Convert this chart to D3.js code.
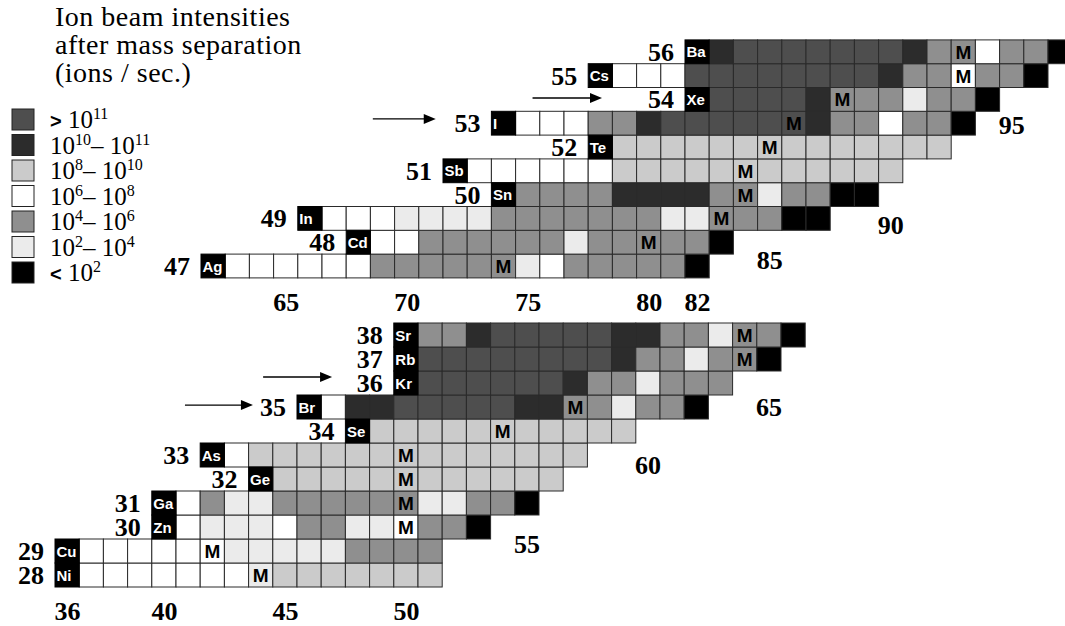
<!DOCTYPE html>
<html lang="en">
<head>
<meta charset="UTF-8">
<title>Ion beam intensities after mass separation</title>
<script src="https://cdnjs.cloudflare.com/ajax/libs/d3/7.8.5/d3.min.js"></script>
<style>
  body { margin: 0; background: #fff; }
  svg { display: block; }
  .num { font-family: "Liberation Serif", "Times New Roman", serif; font-weight: bold; font-size: 26px; fill: #000; }
  text.sym { font-family: "Liberation Sans", Arial, sans-serif; font-weight: bold; font-size: 15px; fill: #fff; }
  .m { font-family: "Liberation Sans", Arial, sans-serif; font-weight: bold; font-size: 19px; fill: #000; }
  .title { font-family: "Liberation Serif", "Times New Roman", serif; font-size: 28px; letter-spacing: 0.5px; }
  .leg { font-family: "Liberation Serif", "Times New Roman", serif; font-size: 25px; }
</style>
</head>
<body>
<div id="chart"></div>
<script>
// intensity classes, legend order (ions / sec.)
const levelLabels = ["> 10^11", "10^10– 10^11", "10^8– 10^10", "10^6– 10^8", "10^4– 10^6", "10^2– 10^4", "< 10^2"];
const titleLines = ["Ion beam intensities", "after mass separation", "(ions / sec.)"];

// upper chart: one row per element, class codes start at N = stable + 1
const upperZ      = [47, 48, 49, 50, 51, 52, 53, 54, 55, 56];
const upperSymbol = ["Ag", "Cd", "In", "Sn", "Sb", "Te", "I", "Xe", "Cs", "Ba"];
const upperStable = [62, 68, 66, 74, 72, 78, 74, 82, 78, 82];
const upperClass  = [
  "33333344444453444446",
  "334444445444446",
  "333555544444445544466",
  "444411114454466",
  "333333222222222222",
  "22222222222222",
  "3334410000001443446",
  "000014445446",
  "333000000001443446",
  "100000001443446"
];
const upperM = [[47, 74], [48, 80], [49, 83], [50, 84], [51, 84], [52, 85], [53, 86], [54, 88], [55, 93], [56, 93]];
const upperTicks = [65, 70, 75, 80, 82];
const upperEdgeTicks = [[85, 47.25], [90, 48.72], [95, 52.92]];   // [N, Z]
const upperArrows = [[53.18, 68.6, 71.2], [54.06, 75.2, 78.07]];  // [Z, N from, N to]

// lower chart
const lowerZ      = [28, 29, 30, 31, 32, 33, 34, 35, 36, 37, 38];
const lowerSymbol = ["Ni", "Cu", "Zn", "Ga", "Ge", "As", "Se", "Br", "Kr", "Rb", "Sr"];
const lowerStable = [36, 36, 40, 40, 44, 42, 48, 46, 50, 50, 50];
const lowerClass  = [
  "333333352222222",
  "333333555554444",
  "3555344553446",
  "345544444455446",
  "222222222222",
  "322222222222222",
  "22222222222",
  "3110000011445446",
  "0000001445444",
  "000000001445446",
  "4410000011445446"
];
const lowerM = [[28, 44], [29, 42], [30, 50], [31, 50], [32, 50], [33, 50], [34, 54], [35, 57], [37, 64], [38, 64]];
const lowerTicks = [36, 40, 45, 50];
const lowerEdgeTicks = [[55, 29.3], [60, 32.6], [65, 35.0]];
const lowerArrows = [[35.08, 40.87, 43.68], [36.25, 44.1, 46.95]];

const fills = ["#4e4e4e", "#2c2c2c", "#cbcbcb", "#ffffff", "#8f8f8f", "#ebebeb", "#000000"];

const svg = d3.select("#chart").append("svg")
    .attr("width", 1065)
    .attr("height", 626);

const panels = [
    {
        z: upperZ, symbol: upperSymbol, stable: upperStable, cls: upperClass, m: upperM,
        ticks: upperTicks, edge: upperEdgeTicks, arrows: upperArrows,
        x: d3.scaleLinear().domain([62, 97]).range([213.1, 213.1 + 35 * 24.2]),
        y: d3.scaleLinear().domain([47, 56]).range([266, 266 - 9 * 23.8])
    },
    {
        z: lowerZ, symbol: lowerSymbol, stable: lowerStable, cls: lowerClass, m: lowerM,
        ticks: lowerTicks, edge: lowerEdgeTicks, arrows: lowerArrows,
        x: d3.scaleLinear().domain([36, 66]).range([67.1, 67.1 + 30 * 24.2]),
        y: d3.scaleLinear().domain([28, 38]).range([575, 335])
    }
];

function drawPanel(p) {
    const cw = p.x(1) - p.x(0);
    const ch = Math.abs(p.y(1) - p.y(0));
    const g = svg.append("g");

    const cells = [];
    p.z.forEach((z, i) => {
        p.cls[i].split("").forEach((c, k) => cells.push({ z: z, n: p.stable[i] + 1 + k, level: +c }));
    });

    g.selectAll("rect.cell")
        .data(cells)
        .join("rect")
        .attr("class", "cell")
        .attr("x", d => p.x(d.n) - cw / 2)
        .attr("y", d => p.y(d.z) - ch / 2)
        .attr("width", cw)
        .attr("height", ch)
        .attr("fill", d => fills[d.level])
        .attr("stroke", "#2a2a2a")
        .attr("stroke-width", 1);

    // stable isotope cells with element symbol
    const syms = p.z.map((z, i) => ({ z: z, n: p.stable[i], s: p.symbol[i] }));
    g.selectAll("rect.sym")
        .data(syms)
        .join("rect")
        .attr("class", "sym")
        .attr("x", d => p.x(d.n) - cw / 2)
        .attr("y", d => p.y(d.z) - ch / 2)
        .attr("width", cw)
        .attr("height", ch)
        .attr("fill", "#000")
        .attr("stroke", "#000");

    g.selectAll("text.sym")
        .data(syms)
        .join("text")
        .attr("class", "sym")
        .attr("x", d => p.x(d.n) - cw / 2 + 1.5)
        .attr("y", d => p.y(d.z) + 5.5)
        .text(d => d.s);

    // M markers
    g.selectAll("text.m")
        .data(p.m)
        .join("text")
        .attr("class", "m")
        .attr("text-anchor", "middle")
        .attr("x", d => p.x(d[1]))
        .attr("y", d => p.y(d[0]) + 7)
        .text("M");

    // Z labels
    g.selectAll("text.zlab")
        .data(syms)
        .join("text")
        .attr("class", "num zlab")
        .attr("text-anchor", "end")
        .attr("x", d => p.x(d.n) - cw / 2 - 11)
        .attr("y", d => p.y(d.z) + ch / 2 - 3)
        .text(d => d.z);

    // N labels under the chart
    const bottom = p.y(p.z[0]) + ch / 2 + 33;
    g.append("g")
        .attr("transform", `translate(0,${bottom})`)
        .call(d3.axisBottom(p.x).tickValues(p.ticks).tickSize(0).tickPadding(0).tickFormat(d3.format("d")))
        .call(a => a.select(".domain").remove())
        .selectAll("text")
        .attr("class", "num")
        .attr("y", 0)
        .attr("dy", 0);

    // N labels along the neutron-rich edge
    g.selectAll("text.edge")
        .data(p.edge)
        .join("text")
        .attr("class", "num edge")
        .attr("text-anchor", "middle")
        .attr("x", d => p.x(d[0]))
        .attr("y", d => p.y(d[1]) + 9)
        .text(d => d[0]);

    // arrows
    p.arrows.forEach(a => {
        const yy = p.y(a[0]), x1 = p.x(a[1]), x2 = p.x(a[2]);
        g.append("line")
            .attr("x1", x1).attr("x2", x2 - 8)
            .attr("y1", yy).attr("y2", yy)
            .attr("stroke", "#000").attr("stroke-width", 1.4);
        g.append("path")
            .attr("d", `M${x2},${yy}L${x2 - 12},${yy - 5}L${x2 - 12},${yy + 5}Z`)
            .attr("fill", "#000");
    });
}

panels.forEach(drawPanel);

// title and legend
svg.append("g").selectAll("text")
    .data(titleLines)
    .join("text")
    .attr("class", "title")
    .attr("x", 55)
    .attr("y", (d, i) => 26 + i * 28)
    .text(d => d);

const ly = d3.scaleBand().domain(levelLabels).range([109, 109 + 7 * 25.5]);
const legend = svg.append("g");
legend.selectAll("rect")
    .data(levelLabels)
    .join("rect")
    .attr("x", 12)
    .attr("y", d => ly(d))
    .attr("width", 22)
    .attr("height", 21)
    .attr("fill", (d, i) => fills[i])
    .attr("stroke", "#222");

levelLabels.forEach(lab => {
    const t = legend.append("text").attr("class", "leg").attr("x", 50).attr("y", ly(lab) + 19);
    let raised = false;
    lab.split(/(\^\d+)/).filter(s => s !== "").forEach(s => {
        if (s[0] === "^") {
            t.append("tspan").attr("dy", raised ? 0 : -9).attr("font-size", 16).text(s.slice(1));
            raised = true;
        } else {
            const sign = s.match(/^([<>])(.*)$/);
            if (sign) {
                t.append("tspan").attr("font-weight", "bold").attr("font-family", "Liberation Sans, Arial, sans-serif")
                    .attr("font-size", 20).text(sign[1]);
                t.append("tspan").text(sign[2]);
            } else {
                t.append("tspan").attr("dy", raised ? 9 : 0).text(s);
            }
            raised = false;
        }
    });
});
</script>
</body>
</html>
